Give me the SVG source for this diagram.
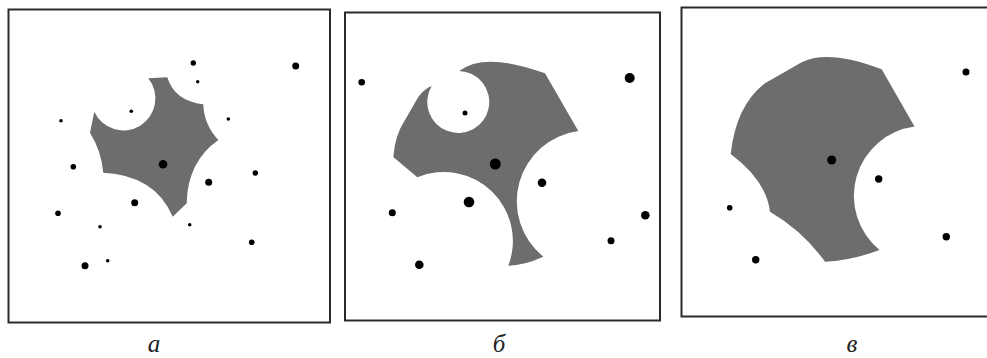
<svg xmlns="http://www.w3.org/2000/svg" width="987" height="358" viewBox="0 0 987 358">
<style>
.frame{fill:#fff;stroke:#2a2a2a;stroke-width:2}
.region{fill:#6d6d6d;stroke:none}
.pt{fill:#000}
.lbl{font-family:"Liberation Serif","DejaVu Serif",serif;font-style:italic;font-size:25px;fill:#222;text-anchor:middle}
</style>
<rect width="987" height="358" fill="#fff"/>
<g id="panel-a">
<rect class="frame" x="8.5" y="9.5" width="321.5" height="313"/>
<path class="region" d="M148.3,78.3 L167.3,77.3 Q174.7,101.2 203.3,104.3 Q203.8,124.4 218.3,140 Q187.5,161.7 186.7,203.3 L172.7,216.7 Q155.3,175.3 103.3,172.7 Q101.3,150.7 90,132.7 L94.3,111.7 A32,32 0 1 0 148.3,78.3 Z"/>
<g class="pt">
<circle cx="193.3" cy="63" r="2.7"/>
<circle cx="295.7" cy="66" r="3.5"/>
<circle cx="197.7" cy="81.7" r="1.7"/>
<circle cx="131.3" cy="111.3" r="1.8"/>
<circle cx="61" cy="120.7" r="1.8"/>
<circle cx="228.3" cy="119" r="1.8"/>
<circle cx="163" cy="164.3" r="4.3"/>
<circle cx="73.3" cy="166.7" r="2.8"/>
<circle cx="255.3" cy="173" r="2.7"/>
<circle cx="208.7" cy="182.3" r="3.5"/>
<circle cx="134.7" cy="202.7" r="3.5"/>
<circle cx="58" cy="213.3" r="2.8"/>
<circle cx="189.7" cy="224.7" r="1.8"/>
<circle cx="100" cy="226.7" r="1.8"/>
<circle cx="251.7" cy="242.3" r="2.8"/>
<circle cx="107.7" cy="260.7" r="1.8"/>
<circle cx="85" cy="265.7" r="3.5"/>
</g>
<text class="lbl" x="154" y="352">а</text>
</g>
<g id="panel-b">
<rect class="frame" x="345" y="12.5" width="315" height="308"/>
<path class="region" d="M459.3,71 Q484.4,51.2 545,73.3 L578.3,131 A71,71 0 0 0 543.3,256.7 Q524.2,265.4 508.3,265.7 A69,69 0 0 0 417.3,177.3 L393.3,157 Q395,135 405,120 L418.3,97 Q424,89 431.7,86 A31,31 0 1 0 459.3,71 Z"/>
<g class="pt">
<circle cx="361.7" cy="82.3" r="3.3"/>
<circle cx="629.7" cy="78" r="5"/>
<circle cx="465" cy="113" r="2.5"/>
<circle cx="495.3" cy="164" r="5.5"/>
<circle cx="542" cy="182.7" r="4.3"/>
<circle cx="469" cy="202" r="5.3"/>
<circle cx="392.3" cy="212.7" r="3.5"/>
<circle cx="645.3" cy="215.3" r="4.3"/>
<circle cx="611" cy="240.7" r="3.5"/>
<circle cx="419.3" cy="264.7" r="4.3"/>
</g>
<text class="lbl" x="499" y="352">б</text>
</g>
<g id="panel-c">
<rect class="frame" x="681.5" y="7.5" width="320" height="309"/>
<path class="region" d="M801.7,62.3 Q828.3,48.8 881.7,69.3 L914.5,126.5 A70,70 0 0 0 879.5,250 Q851.1,260.7 825,261.7 Q803,231 770,211.7 Q766.2,180.5 730.7,154 Q736.1,105.3 765,83.3 Z"/>
<g class="pt">
<circle cx="966" cy="72" r="3.5"/>
<circle cx="831.7" cy="160" r="4.5"/>
<circle cx="878.7" cy="179" r="3.7"/>
<circle cx="729.7" cy="207.7" r="2.8"/>
<circle cx="946.3" cy="236.7" r="3.7"/>
<circle cx="755.7" cy="259.7" r="3.7"/>
</g>
<text class="lbl" x="852" y="352">в</text>
</g>
</svg>
